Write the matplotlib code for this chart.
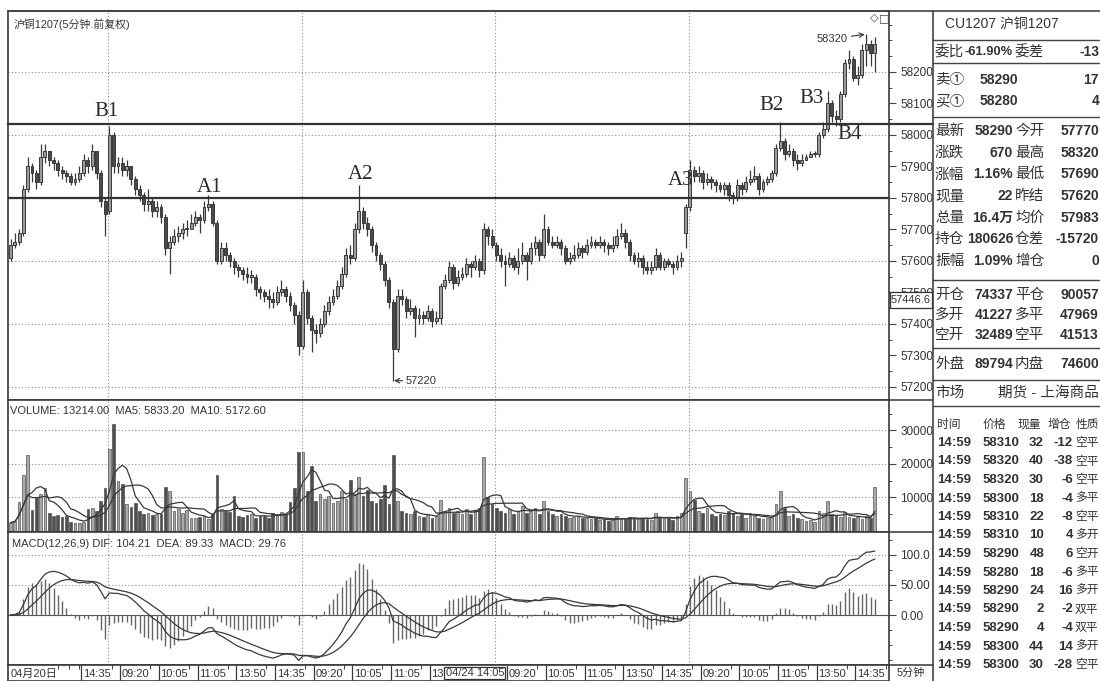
import numpy as np
import pandas as pd
import matplotlib
matplotlib.use('Agg')
import matplotlib.pyplot as plt
import matplotlib.transforms as mtransforms
from matplotlib import font_manager
from matplotlib.lines import Line2D
from matplotlib.patches import Rectangle

# ---- 5-minute bars, 04/20 11:05 .. 04/26 ----
opens = [57610, 57650, 57660, 57690, 57830, 57900, 57880, 57850, 57930, 57950,
         57920, 57910, 57890, 57880, 57870, 57850, 57860, 57880, 57920, 57900,
         57950, 57880, 57790, 57760, 58000, 57900, 57910, 57890, 57900, 57860,
         57830, 57810, 57780, 57790, 57760, 57770, 57740, 57640, 57660, 57680,
         57690, 57700, 57700, 57720, 57740, 57730, 57770, 57780, 57720, 57600,
         57640, 57620, 57600, 57580, 57570, 57560, 57550, 57550, 57510, 57500,
         57490, 57480, 57470, 57500, 57510, 57490, 57460, 57430, 57330, 57500,
         57420, 57380, 57370, 57400, 57440, 57470, 57490, 57520, 57560, 57620,
         57610, 57700, 57760, 57720, 57700, 57650, 57620, 57590, 57540, 57470,
         57320, 57490, 57480, 57440, 57450, 57420, 57430, 57420, 57440, 57410,
         57420, 57520, 57540, 57580, 57530, 57550, 57560, 57590, 57580, 57600,
         57570, 57700, 57680, 57650, 57620, 57600, 57590, 57610, 57580, 57600,
         57620, 57600, 57640, 57660, 57620, 57700, 57660, 57650, 57660, 57640,
         57600, 57610, 57620, 57640, 57630, 57650, 57660, 57650, 57660, 57650,
         57640, 57650, 57680, 57690, 57660, 57620, 57600, 57610, 57580, 57570,
         57580, 57620, 57580, 57600, 57590, 57580, 57600, 57690, 57770, 57890,
         57870, 57880, 57850, 57860, 57850, 57840, 57830, 57840, 57810, 57800,
         57840, 57830, 57850, 57860, 57870, 57830, 57850, 57860, 57880, 57960,
         57980, 57940, 57950, 57920, 57910, 57920, 57930, 57940, 57940, 58000,
         58020, 58100, 58060, 58050, 58130, 58230, 58240, 58180, 58190, 58270,
         58290, 58260]
highs = [57670, 57690, 57700, 57840, 57930, 57910, 57890, 57970, 57970, 57950,
         57930, 57920, 57900, 57890, 57880, 57880, 57900, 57940, 57930, 57970,
         57950, 57890, 57800, 58030, 58010, 57930, 57930, 57920, 57900, 57870,
         57840, 57820, 57830, 57800, 57790, 57780, 57750, 57680, 57700, 57710,
         57720, 57730, 57750, 57760, 57750, 57790, 57810, 57790, 57730, 57660,
         57660, 57630, 57610, 57590, 57580, 57580, 57570, 57560, 57520, 57510,
         57510, 57500, 57520, 57540, 57520, 57500, 57470, 57440, 57540, 57510,
         57430, 57400, 57420, 57460, 57490, 57510, 57540, 57580, 57640, 57650,
         57720, 57840, 57770, 57740, 57710, 57660, 57630, 57600, 57550, 57480,
         57510, 57510, 57490, 57480, 57460, 57450, 57440, 57460, 57450, 57440,
         57530, 57560, 57600, 57590, 57570, 57580, 57610, 57600, 57620, 57610,
         57720, 57710, 57700, 57660, 57640, 57620, 57630, 57620, 57640, 57660,
         57630, 57660, 57680, 57670, 57750, 57710, 57680, 57680, 57670, 57650,
         57630, 57650, 57660, 57650, 57670, 57680, 57670, 57680, 57670, 57660,
         57680, 57700, 57720, 57700, 57670, 57630, 57630, 57620, 57600, 57600,
         57640, 57630, 57610, 57610, 57600, 57620, 57630, 57780, 57920, 57900,
         57900, 57890, 57880, 57870, 57860, 57850, 57850, 57850, 57820, 57860,
         57850, 57870, 57890, 57900, 57880, 57860, 57870, 57890, 57970, 58040,
         57990, 57970, 57960, 57940, 57940, 57940, 57950, 57950, 58010, 58040,
         58140, 58110, 58080, 58140, 58240, 58270, 58250, 58220, 58290, 58320,
         58300, 58310]
lows = [57600, 57640, 57650, 57680, 57820, 57850, 57830, 57840, 57910, 57900,
        57890, 57870, 57860, 57850, 57840, 57840, 57850, 57870, 57880, 57890,
        57860, 57770, 57680, 57750, 57880, 57880, 57870, 57870, 57840, 57810,
        57790, 57760, 57760, 57740, 57740, 57720, 57620, 57560, 57650, 57660,
        57670, 57680, 57700, 57710, 57690, 57720, 57760, 57710, 57590, 57590,
        57600, 57580, 57560, 57550, 57540, 57530, 57530, 57490, 57480, 57470,
        57450, 57450, 57460, 57490, 57470, 57440, 57400, 57300, 57320, 57400,
        57310, 57340, 57360, 57390, 57430, 57460, 57480, 57510, 57550, 57590,
        57600, 57690, 57700, 57680, 57630, 57600, 57570, 57520, 57450, 57220,
        57310, 57460, 57420, 57430, 57360, 57400, 57400, 57410, 57390, 57400,
        57400, 57510, 57530, 57510, 57520, 57540, 57550, 57550, 57570, 57550,
        57560, 57650, 57640, 57600, 57580, 57520, 57580, 57570, 57560, 57590,
        57540, 57590, 57620, 57600, 57610, 57650, 57640, 57640, 57620, 57590,
        57590, 57600, 57610, 57610, 57620, 57640, 57640, 57640, 57630, 57620,
        57630, 57640, 57670, 57640, 57600, 57590, 57580, 57560, 57560, 57560,
        57570, 57570, 57570, 57580, 57560, 57570, 57580, 57640, 57760, 57850,
        57850, 57830, 57840, 57830, 57820, 57820, 57810, 57790, 57780, 57790,
        57810, 57820, 57840, 57850, 57810, 57820, 57840, 57850, 57870, 57950,
        57920, 57930, 57900, 57890, 57900, 57920, 57930, 57930, 57930, 57990,
        58010, 58040, 58030, 58040, 58120, 58210, 58170, 58160, 58180, 58220,
        58220, 58200]
closes = [57650, 57660, 57690, 57830, 57900, 57880, 57850, 57930, 57950, 57920,
          57910, 57890, 57880, 57870, 57850, 57860, 57880, 57920, 57900, 57950,
          57880, 57790, 57750, 58000, 57900, 57910, 57890, 57900, 57860, 57830,
          57810, 57780, 57790, 57760, 57770, 57740, 57640, 57660, 57680, 57690,
          57700, 57700, 57720, 57740, 57730, 57770, 57780, 57720, 57600, 57640,
          57620, 57600, 57580, 57570, 57560, 57550, 57550, 57510, 57500, 57490,
          57480, 57470, 57500, 57510, 57490, 57460, 57430, 57330, 57500, 57420,
          57380, 57370, 57400, 57440, 57470, 57490, 57520, 57560, 57620, 57610,
          57700, 57760, 57720, 57700, 57650, 57620, 57590, 57540, 57470, 57320,
          57490, 57480, 57440, 57450, 57420, 57430, 57420, 57440, 57410, 57420,
          57520, 57540, 57580, 57530, 57550, 57560, 57590, 57580, 57600, 57570,
          57700, 57680, 57650, 57620, 57600, 57590, 57610, 57580, 57600, 57620,
          57600, 57640, 57660, 57620, 57700, 57660, 57650, 57660, 57640, 57600,
          57610, 57620, 57640, 57630, 57650, 57660, 57650, 57660, 57650, 57640,
          57650, 57680, 57690, 57660, 57620, 57600, 57610, 57580, 57570, 57580,
          57620, 57580, 57600, 57590, 57580, 57600, 57610, 57770, 57890, 57870,
          57880, 57850, 57860, 57850, 57840, 57830, 57840, 57810, 57800, 57840,
          57830, 57850, 57860, 57870, 57830, 57850, 57860, 57880, 57960, 57980,
          57940, 57950, 57920, 57910, 57920, 57930, 57940, 57940, 58000, 58020,
          58100, 58060, 58050, 58130, 58230, 58240, 58180, 58190, 58270, 58290,
          58260, 58290]
volumes = [2500, 3000, 8700, 16700, 22700, 6300, 9700, 11000, 12800, 5300,
           4500, 4800, 4200, 4600, 2800, 2500, 2300, 2600, 6500, 6800,
           6000, 9000, 12800, 24600, 32000, 14800, 14000, 8000, 7200, 8500,
           6000, 5000, 5500, 4800, 5200, 5000, 13100, 11800, 6000, 6500,
           5500, 6200, 4000, 3800, 4200, 4500, 3500, 5000, 16800, 6500,
           6000, 5800, 10400, 4500, 4200, 4800, 5000, 4000, 4600, 4400,
           4000, 5500, 5200, 5600, 5000, 8700, 12700, 23600, 23600, 12000,
           19500, 9000, 11000, 9500, 10500, 8500, 9000, 12000, 9500, 15300,
           11000, 16100, 10500, 12200, 9000, 8500, 9500, 13800, 8000, 22600,
           9000, 6000, 5500, 5000, 6000, 4500, 4200, 4800, 4000, 4500,
           9400, 6000, 7000, 5500, 6000, 5000, 6500, 5000, 6000, 7000,
           22000, 10000, 8000, 7000, 6000, 5500, 6500, 5000, 6000, 7500,
           5500, 6000, 7000, 5000, 9000, 6000, 5000, 4500, 5000, 4500,
           4000, 4200, 4500, 3800, 4000, 3500, 3800, 3200, 3500, 3000,
           3200, 4500, 4000, 3500, 4200, 3500, 3800, 4000, 3600, 3400,
           5500, 4000, 3500, 3800, 3200, 4500, 5500, 15900, 12000, 9400,
           6000, 5500, 7000, 5000, 4500, 5200, 4800, 6000, 5500, 4500,
           5000, 4000, 5500, 4500, 4000, 3500, 3800, 4200, 8000, 12000,
           7000, 4500, 5000, 4000, 3500, 3000, 3200, 2800, 6000, 5500,
           9000, 5000, 4800, 4200, 5600, 4060, 3900, 4100, 3600, 4500,
           3752, 13214]

day_starts = [23, 68, 113, 158]
tick_idx = [17, 26, 35, 44, 53, 62, 71, 80, 89, 98,
            116, 125, 134, 143, 152, 161, 170, 179, 188, 197]
tick_lab = ['14:35', '09:20', '10:05', '11:05', '13:50', '14:35', '09:20', '10:05', '11:05', '13',
            '09:20', '10:05', '11:05', '13:50', '14:35', '09:20', '10:05', '11:05', '13:50', '14:35']

quote_rows = [('最新', '58290', '今开', '57770'), ('涨跌', '670', '最高', '58320'),
              ('涨幅', '1.16%', '最低', '57690'), ('现量', '22', '昨结', '57620'),
              ('总量', '16.4万', '均价', '57983'), ('持仓', '180626', '仓差', '-15720'),
              ('振幅', '1.09%', '增仓', '0')]
oi_rows = [('开仓', '74337', '平仓', '90057'), ('多开', '41227', '多平', '47969'),
           ('空开', '32489', '空平', '41513')]
trade_price = [58310, 58320, 58320, 58300, 58310, 58310, 58290, 58280, 58290, 58290, 58290, 58300, 58300]
trade_qty = [32, 40, 30, 18, 22, 10, 48, 18, 24, 2, 4, 44, 30]
trade_oi = [-12, -38, -6, -4, -8, 4, 6, -6, 16, -2, -4, 14, -28]
trade_type = ['空平', '空平', '空平', '多平', '空平', '多开', '空开', '多平', '多开', '双平', '双平', '多开', '空平']

# ---- fonts ----
names = {f.name for f in font_manager.fontManager.ttflist}
NARROW = 'Liberation Sans Narrow' if 'Liberation Sans Narrow' in names else 'Liberation Sans'
CJK = 'Noto Sans CJK SC'
FAM = [NARROW, CJK, 'DejaVu Sans']
plt.rcParams['font.family'] = FAM
INK = '#333333'
GRID = '#8a8a8a'

W, H = 1100, 681
fig = plt.figure(figsize=(W / 100, H / 100), dpi=100)


def fx(x):
    return x / W


def fy(y):
    return 1 - y / H


def ftext(x, y, s, ha='left', size=10.5, weight='normal', **kw):
    fig.text(fx(x), fy(y), s, ha=ha, va='center', fontsize=size, weight=weight,
             color=INK, family=FAM, **kw)


def fline(x0, y0, x1, y1, lw=1.0, color='#444444'):
    fig.add_artist(Line2D([fx(x0), fx(x1)], [fy(y0), fy(y1)], lw=lw, color=color,
                          transform=fig.transFigure))


L, R = 8, 889
ax = fig.add_axes([fx(L), fy(400), (R - L) / W, (400 - 11) / H])
axv = fig.add_axes([fx(L), fy(532), (R - L) / W, (532 - 400) / H], sharex=ax)
axm = fig.add_axes([fx(L), fy(665), (R - L) / W, (665 - 532) / H], sharex=ax)
axl = fig.add_axes([fx(L), fy(681), (R - L) / W, 16 / H], sharex=ax)

n = len(closes)
x = np.arange(n)
o = np.array(opens)
c = np.array(closes)
up = c >= o

xmin = -(10.5 - L) / 4.3
ax.set_xlim(xmin, xmin + (R - L) / 4.3)
ax.set_ylim(57158.7, 58393.6)
axv.set_ylim(-300, 39100)
axm.set_ylim(-83.3, 138.3)

for a in (ax, axv, axm, axl):
    for s in a.spines.values():
        s.set_color('#3a3a3a')
        s.set_linewidth(1.2)
    a.tick_params(axis='x', bottom=False, labelbottom=False)
    a.set_facecolor('white')

# dotted grid
for p in range(57200, 58201, 200):
    ax.axhline(p, color=GRID, lw=0.8, ls=(0, (1, 2)), zorder=0)
for v in (10000, 20000, 30000):
    axv.axhline(v, color=GRID, lw=0.8, ls=(0, (1, 2)), zorder=0)
for m in (50, 100):
    axm.axhline(m, color=GRID, lw=0.8, ls=(0, (1, 2)), zorder=0)
for d in day_starts:
    for a in (ax, axv, axm):
        a.axvline(d - 0.3, color=GRID, lw=0.8, ls=(0, (1, 2)), zorder=0)

# candles
ax.vlines(x, lows, highs, color='#3a3a3a', lw=0.9, zorder=2)
body_lo = np.minimum(o, c)
body_h = np.maximum(np.abs(c - o), 4)
ax.bar(x[up], body_h[up], bottom=body_lo[up], width=0.66, color='#9c9c9c',
       edgecolor='#3a3a3a', linewidth=0.7, zorder=3)
ax.bar(x[~up], body_h[~up], bottom=body_lo[~up], width=0.66, color='#4a4a4a',
       edgecolor='#3a3a3a', linewidth=0.7, zorder=3)

# support / resistance lines
ax.axhline(57800, color='#333333', lw=1.6, zorder=4)
blend = mtransforms.blended_transform_factory(ax.transAxes, ax.transData)
ax.plot([0, 1 + 44 / (R - L)], [58035, 58035], transform=blend, color='#333333',
        lw=1.6, clip_on=False, zorder=4)

serif = 'Liberation Serif'
marks = [('B1', 22.4, 58076), ('A1', 46.4, 57832), ('A2', 81.5, 57873), ('A3', 155.9, 57854),
         ('B2', 176.9, 58095), ('B3', 186.4, 58117), ('B4', 195.2, 58000)]
for s, xd, yd in marks:
    ax.text(xd, yd, s, ha='center', va='center', fontsize=15, family=serif, color='#2a2a2a', zorder=6)

ax.annotate('57220', xy=(x[int(np.argmin(lows))] + 0.2, min(lows)), xytext=(91.8, min(lows)),
            ha='left', va='center', fontsize=8, color=INK,
            arrowprops=dict(arrowstyle='->', color='#333333', lw=0.8, shrinkA=0, shrinkB=0))
ax.annotate('58320', xy=(x[int(np.argmax(highs))], max(highs)), xytext=(194.6, 58305),
            ha='right', va='center', fontsize=8, color=INK,
            arrowprops=dict(arrowstyle='->', color='#333333', lw=0.8, shrinkA=1, shrinkB=1))

ax.text(0.006, 0.965, '沪铜1207(5分钟.前复权)', transform=ax.transAxes, ha='left', va='center',
        fontsize=7.8, color=INK)
ax.text(0.983, 0.982, '◇', transform=ax.transAxes, ha='center', va='center', fontsize=8,
        color='#444444', family='DejaVu Sans')
ax.text(0.995, 0.982, '□', transform=ax.transAxes, ha='center', va='center', fontsize=8,
        color='#444444', family='DejaVu Sans')

# volume
vol = pd.Series(volumes, dtype=float)
axv.bar(x[up], vol[up], width=0.62, color='#a8a8a8', edgecolor='#555555', linewidth=0.5)
axv.bar(x[~up], vol[~up], width=0.62, color='#505050', edgecolor='#505050', linewidth=0.5)
axv.plot(x, vol.rolling(5, min_periods=1).mean(), color='#3a3a3a', lw=0.9)
axv.plot(x, vol.rolling(10, min_periods=1).mean(), color='#3a3a3a', lw=0.9)
axv.text(0.002, 0.92, 'VOLUME: 13214.00  MA5: 5833.20  MA10: 5172.60', transform=axv.transAxes,
         ha='left', va='center', fontsize=8, color=INK)

# MACD(12,26,9)
cs = pd.Series(closes, dtype=float)
dif = cs.ewm(span=12, adjust=False).mean() - cs.ewm(span=26, adjust=False).mean()
dea = dif.ewm(span=9, adjust=False).mean()
hist = 2 * (dif - dea)
axm.axhline(0, color='#555555', lw=0.8)
axm.vlines(x, 0, hist, color='#666666', lw=1.0)
axm.plot(x, dif, color='#3a3a3a', lw=0.9)
axm.plot(x, dea, color='#3a3a3a', lw=0.9)
axm.text(0.004, 0.91, 'MACD(12,26,9) DIF: 104.21  DEA: 89.33  MACD: 29.76', transform=axm.transAxes,
         ha='left', va='center', fontsize=8, color=INK)

# right axes
for a, major, minor, fmt in ((ax, np.arange(57200, 58201, 100), np.arange(57200, 58351, 50), '{:.0f}'),
                             (axv, [10000, 20000, 30000], np.arange(5000, 36000, 5000), '{:.0f}'),
                             (axm, [0, 50, 100], np.arange(-75, 126, 25), None)):
    a.yaxis.tick_right()
    a.set_yticks(major)
    a.set_yticks(minor, minor=True)
    if fmt:
        a.set_yticklabels([fmt.format(v) for v in major])
    a.tick_params(axis='y', which='major', direction='out', length=5, width=0.8, pad=3,
                  labelsize=8.5, colors='#444444', labelcolor=INK)
    a.tick_params(axis='y', which='minor', direction='out', length=2.5, width=0.7, colors='#444444')
axm.set_yticklabels(['0.00', '50.00', '100.0'])

# bottom label strip
axl.set_yticks([])
axl.set_ylim(0, 1)
axl.text(xmin + 0.6, 0.45, '04月20日', ha='left', va='center', fontsize=8, color=INK)
axl.vlines([t - 0.5 for t in tick_idx], 0, 1, color='#3a3a3a', lw=0.9)
axl.vlines([t + 6.5 for t in tick_idx if t != 98] + [11, 13.5, 16], 0.72, 1, color='#3a3a3a', lw=0.7)
for t, s in zip(tick_idx, tick_lab):
    axl.text(t - 0.1, 0.45, s, ha='left', va='center', fontsize=8, color=INK, clip_on=True)
axl.text(101.2, 0.5, '04/24 14:05', ha='left', va='center', fontsize=8, color=INK, zorder=5,
         bbox=dict(boxstyle='square,pad=0.12', facecolor='white', edgecolor='#333333', lw=0.9))

# axis strip decorations
for yy in (400, 532, 665):
    fline(R, yy, 933, yy, lw=1.2)
fline(8, 11, W, 11, lw=1.2)
fline(933, 11, 933, H, lw=1.2)
ftext(911, 673, '5分钟', ha='center', size=8)
fig.add_artist(Rectangle((fx(890), fy(308)), fx(42), 16 / H, transform=fig.transFigure,
                         facecolor='white', edgecolor='#333333', lw=0.9, zorder=5))
ftext(911, 300, '57446.6', ha='center', size=8, zorder=6)

# ---- info panel ----
ftext(1002, 25, 'CU1207 沪铜1207', ha='center', size=10)
for yy in (40, 63, 117, 280, 348, 380, 406):
    fline(933, yy, W, yy, lw=1.0)
ftext(935, 52, '委比', size=10.5)
ftext(1013, 52, '-61.90%', ha='right', size=9.3, weight='bold')
ftext(1015, 52, '委差', size=10.5)
ftext(1099, 52, '-13', ha='right', size=10, weight='bold')
ftext(935, 80, '卖①', size=10.5)
ftext(980, 80, '58290', size=10, weight='bold')
ftext(1099, 80, '17', ha='right', size=10, weight='bold')
ftext(935, 101, '买①', size=10.5)
ftext(980, 101, '58280', size=10, weight='bold')
ftext(1099, 101, '4', ha='right', size=10, weight='bold')
for k, (l1, v1, l2, v2) in enumerate(quote_rows):
    yy = 131 + 21.7 * k
    ftext(935, yy, l1, size=10.5)
    ftext(1013, yy, v1, ha='right', size=10, weight='bold')
    ftext(1015, yy, l2, size=10.5)
    ftext(1099, yy, v2, ha='right', size=10, weight='bold')
for k, (l1, v1, l2, v2) in enumerate(oi_rows):
    yy = 295 + 20 * k
    ftext(935, yy, l1, size=10.5)
    ftext(1013, yy, v1, ha='right', size=10, weight='bold')
    ftext(1015, yy, l2, size=10.5)
    ftext(1099, yy, v2, ha='right', size=10, weight='bold')
ftext(935, 364, '外盘', size=10.5)
ftext(1013, 364, '89794', ha='right', size=10, weight='bold')
ftext(1015, 364, '内盘', size=10.5)
ftext(1099, 364, '74600', ha='right', size=10, weight='bold')
ftext(935, 393, '市场', size=10.5)
ftext(1099, 393, '期货 - 上海商品', ha='right', size=10.5)

for xx, s in ((937, '时间'), (983, '价格'), (1018, '现量'), (1048, '增仓'), (1076, '性质')):
    ftext(xx, 425, s, size=8.5)
for k in range(len(trade_price)):
    yy = 443 + 18.5 * k
    ftext(937, yy, '14:59', size=9.5, weight='bold')
    ftext(983, yy, str(trade_price[k]), size=9.5, weight='bold')
    ftext(1044, yy, str(trade_qty[k]), ha='right', size=9.5, weight='bold')
    ftext(1073, yy, str(trade_oi[k]), ha='right', size=9.5, weight='bold')
    ftext(1075, yy, trade_type[k], size=8.5)

fig.savefig('out.png', dpi=100)
